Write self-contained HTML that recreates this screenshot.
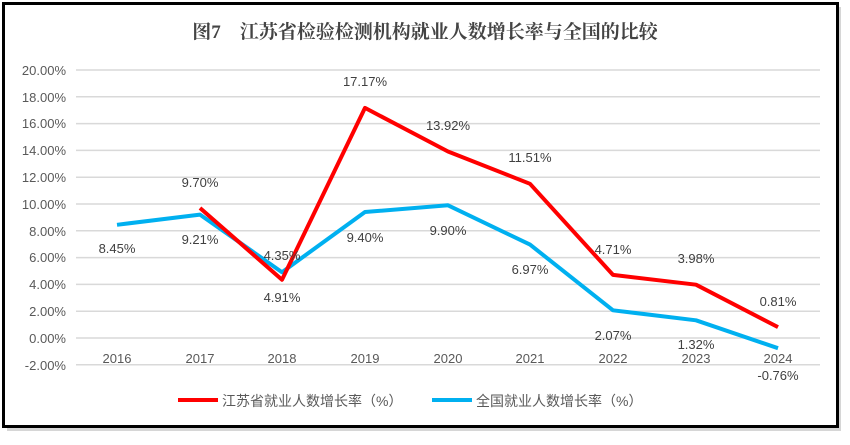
<!DOCTYPE html>
<html><head><meta charset="utf-8"><style>
body{margin:0;background:#fff;}
</style></head><body>
<svg width="850" height="440" xmlns="http://www.w3.org/2000/svg" font-family="'Liberation Sans','Noto Sans CJK SC',sans-serif">
<rect x="7" y="7" width="834" height="424" fill="#bbb" opacity="0.6"/>
<rect x="3.5" y="3.5" width="834" height="423" fill="#fff" stroke="#000" stroke-width="3"/>
<text x="425" y="38" text-anchor="middle" font-size="19" font-weight="bold" fill="#444" font-family="'Liberation Serif','Noto Serif CJK SC',serif">图7　江苏省检验检测机构就业人数增长率与全国的比较</text>
<g stroke="#d9d9d9" stroke-width="1.5">
<line x1="76" x2="820" y1="70" y2="70"/><line x1="76" x2="820" y1="96.8" y2="96.8"/><line x1="76" x2="820" y1="123.6" y2="123.6"/><line x1="76" x2="820" y1="150.4" y2="150.4"/><line x1="76" x2="820" y1="177.2" y2="177.2"/><line x1="76" x2="820" y1="204" y2="204"/><line x1="76" x2="820" y1="230.8" y2="230.8"/><line x1="76" x2="820" y1="257.6" y2="257.6"/><line x1="76" x2="820" y1="284.4" y2="284.4"/><line x1="76" x2="820" y1="311.2" y2="311.2"/><line x1="76" x2="820" y1="338" y2="338"/><line x1="76" x2="820" y1="364.8" y2="364.8"/>
</g>
<g font-size="13" fill="#595959" text-anchor="end">
<text x="66" y="75">20.00%</text><text x="66" y="102">18.00%</text><text x="66" y="128">16.00%</text><text x="66" y="155">14.00%</text><text x="66" y="182">12.00%</text><text x="66" y="209">10.00%</text><text x="66" y="236">8.00%</text><text x="66" y="262">6.00%</text><text x="66" y="289">4.00%</text><text x="66" y="316">2.00%</text><text x="66" y="343">0.00%</text><text x="66" y="370">-2.00%</text>
</g>
<g font-size="13" fill="#595959" text-anchor="middle">
<text x="117" y="363">2016</text><text x="200" y="363">2017</text><text x="282" y="363">2018</text><text x="365" y="363">2019</text><text x="448" y="363">2020</text><text x="530" y="363">2021</text><text x="613" y="363">2022</text><text x="696" y="363">2023</text><text x="778" y="363">2024</text>
</g>
<polyline fill="none" stroke="#00b0f0" stroke-width="4" stroke-linejoin="round" points="117,224.8 200,214.6 282,272.2 365,212 448,205.3 530,244.6 613,310.3 696,320.3 778,348.2"/>
<polyline fill="none" stroke="#ff0000" stroke-width="4" stroke-linejoin="round" points="200,208 282,279.7 365,107.9 448,151.5 530,183.8 613,274.9 696,284.7 778,327.1"/>
<g font-size="13" fill="#404040" text-anchor="middle">
<text x="117" y="253">8.45%</text><text x="200" y="244">9.21%</text><text x="282" y="302">4.91%</text><text x="365" y="242">9.40%</text><text x="448" y="235">9.90%</text><text x="530" y="274">6.97%</text><text x="613" y="340">2.07%</text><text x="696" y="349">1.32%</text><text x="778" y="380">-0.76%</text>
<text x="200" y="187">9.70%</text><text x="282" y="260">4.35%</text><text x="365" y="86">17.17%</text><text x="448" y="130">13.92%</text><text x="530" y="162">11.51%</text><text x="613" y="254">4.71%</text><text x="696" y="263">3.98%</text><text x="778" y="306">0.81%</text>
</g>
<line x1="178" x2="218" y1="400" y2="400" stroke="#ff0000" stroke-width="4"/>
<text x="222" y="406" font-size="14" fill="#595959">江苏省就业人数增长率（%）</text>
<line x1="432" x2="472" y1="400" y2="400" stroke="#00b0f0" stroke-width="4"/>
<text x="476" y="406" font-size="14" fill="#595959">全国就业人数增长率（%）</text>
</svg>
</body></html>
